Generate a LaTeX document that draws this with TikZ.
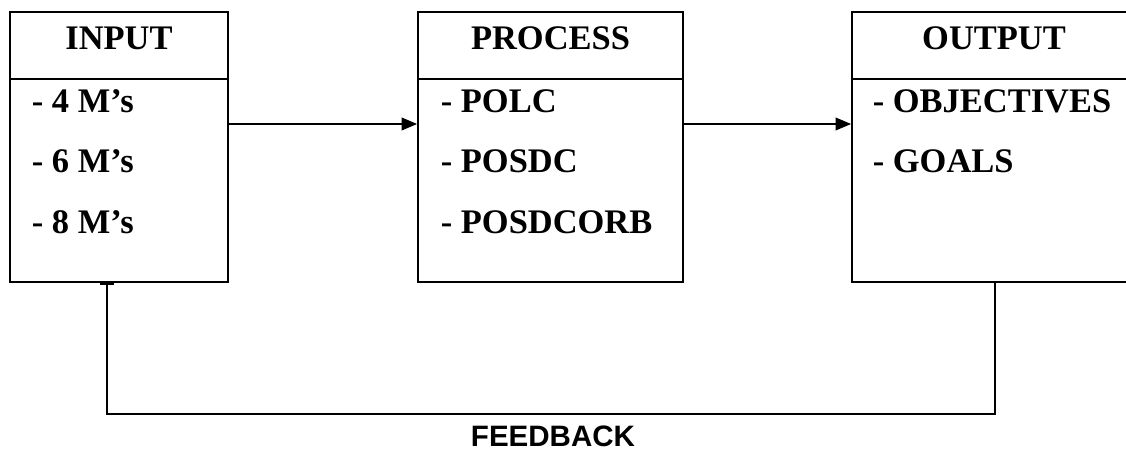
\documentclass[tikz,border=0pt]{standalone}
\usepackage{fontspec}
\setmainfont{Liberation Serif}
\newfontfamily\labelfont{Liberation Sans}
\usetikzlibrary{arrows.meta}
\begin{document}
\begin{tikzpicture}[x=0.025cm,y=-0.025cm,line width=1.2pt,
  boxnode/.style={draw,rectangle,minimum height=6.75cm,inner sep=0pt},
  headtext/.style={anchor=base,inner sep=0pt,font=\fontsize{24.5}{28}\selectfont\bfseries},
  itemtext/.style={anchor=base west,inner sep=0pt,font=\fontsize{24.5}{28}\selectfont\bfseries},
  flow/.style={-{Triangle[length=11pt,width=9pt]}},
  backflow/.style={-{Rectangle[length=1.5pt,width=10.5pt]}}]
\useasboundingbox (0,0) rectangle (1126,454);
% the three boxes
\node[boxnode,minimum width=5.45cm] (input) at (119,147) {};
\node[boxnode,minimum width=6.625cm] (process) at (550.5,147) {};
\node[boxnode,minimum width=7.1cm] (output) at (994,147) {};
\foreach \b in {input,process,output}
  \draw ([yshift=-1.7cm]\b.north west) -- ([yshift=-1.7cm]\b.north east);
% headers
\node[headtext] (inhead) at (119,49) {INPUT};
\node[headtext] (prochead) at (550.5,49) {PROCESS};
\node[headtext] (outhead) at (994,49) {OUTPUT};
% items
\node[itemtext] (in1) at (31,112) {- 4 M’s};
\node[itemtext] (in2) at (31,172) {- 6 M’s};
\node[itemtext] (in3) at (31,233) {- 8 M’s};
\node[itemtext] (proc1) at (440,112) {- POLC};
\node[itemtext] (proc2) at (440,172) {- POSDC};
\node[itemtext] (proc3) at (440,233) {- POSDCORB};
\node[itemtext] (out1) at (872,112) {- OBJECTIVES};
\node[itemtext] (out2) at (872,172) {- GOALS};
% connectors
\draw[flow] ([yshift=0.575cm]input.east) -- ([yshift=0.575cm]process.west);
\draw[flow] ([yshift=0.575cm]process.east) -- ([yshift=0.575cm]output.west);
\draw[backflow] ([xshift=0.025cm]output.south) -- ++(0,131) -| ([xshift=-0.3cm]input.south);
\node[anchor=base,inner sep=0pt,font=\labelfont\fontsize{21}{25}\selectfont\bfseries] (fb) at (553,446) {FEEDBACK};
\end{tikzpicture}
\end{document}
